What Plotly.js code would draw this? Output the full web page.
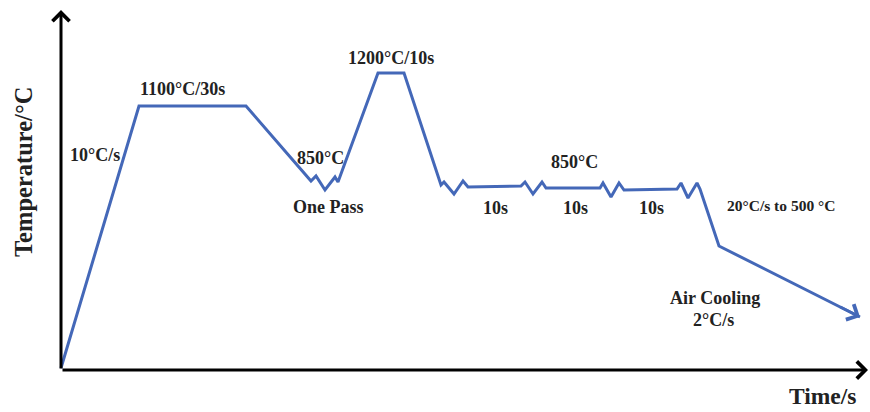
<!DOCTYPE html>
<html>
<head>
<meta charset="utf-8">
<script src="https://cdn.plot.ly/plotly-3.0.1.min.js"></script>
<style>html,body{margin:0;padding:0;background:#fff;}#chart{width:870px;height:412px;}</style>
</head>
<body>
<div id="chart"></div>
<script>
// Schematic thermal cycle (arbitrary schematic units)
const time = [0, 78, 185, 250, 255, 264, 274, 277, 317, 343, 380, 383, 393, 402, 407, 460, 464, 472, 481, 485, 539, 542, 550, 558, 563, 616, 620, 627, 636, 639, 658, 799];
const temp = [2, 264, 264, 189, 194, 180, 193, 188, 297, 297, 185, 188, 176, 189, 183, 184, 188, 176, 188, 182, 182, 187, 173, 187, 180, 181, 187, 172, 187, 181, 124, 53];

const labels = ["10°C/s", "1100°C/30s", "850°C", "One Pass", "1200°C/10s", "850°C", "10s", "10s", "10s", "20°C/s to 500 °C", "Air Cooling", "2°C/s"];
const labelX = [34, 121, 259, 267, 330, 513, 434, 514, 590, 720, 654, 652];
const labelY = [215, 281, 212, 163, 312, 208, 162, 162, 162, 165, 72, 50];
const labelSize = [18, 18, 18, 18, 18, 18, 18, 18, 18, 15.5, 18, 18];

const axisX = [0, 807];
const axisY = [0, 360];

const serif = "Liberation Serif, Times New Roman, serif";
const ink = "#222222";
const blue = "#4468b8";

const n = time.length;
const dx = time[n-1] - time[n-2], dy = temp[n-1] - temp[n-2];

const annotations = [];
// axes with arrowheads
annotations.push({x: axisX[1], y: 0, ax: axisX[0], ay: 0, xref: 'x', yref: 'y', axref: 'x', ayref: 'y',
  text: '', showarrow: true, arrowhead: 4, arrowsize: 1.1, arrowwidth: 3, arrowcolor: '#000', standoff: 0, startstandoff: 0});
annotations.push({x: 0, y: axisY[1], ax: 0, ay: axisY[0], xref: 'x', yref: 'y', axref: 'x', ayref: 'y',
  text: '', showarrow: true, arrowhead: 4, arrowsize: 1.1, arrowwidth: 3, arrowcolor: '#000', standoff: 0, startstandoff: 0});
// arrowhead at end of curve
annotations.push({x: time[n-1], y: temp[n-1], ax: time[n-1] - dx*0.15, ay: temp[n-1] - dy*0.15,
  xref: 'x', yref: 'y', axref: 'x', ayref: 'y', text: '', showarrow: true, arrowhead: 4, arrowsize: 1.2,
  arrowwidth: 2.8, arrowcolor: blue, standoff: 0});

for (let i = 0; i < labels.length; i++) {
  annotations.push({x: labelX[i], y: labelY[i], xref: 'x', yref: 'y', text: labels[i], showarrow: false,
    font: {family: serif, size: labelSize[i], color: ink, weight: 'bold'}});
}
// axis titles
annotations.push({x: -38, y: 198, xref: 'x', yref: 'y', text: 'Temperature/°C', textangle: -90, showarrow: false,
  font: {family: serif, size: 24.5, color: ink, weight: 'bold'}});
annotations.push({x: 761, y: -26, xref: 'x', yref: 'y', text: 'Time/s', showarrow: false,
  font: {family: serif, size: 23.5, color: ink, weight: 'bold'}});

const trace = {x: time, y: temp, mode: 'lines', type: 'scatter', line: {color: blue, width: 3}, hoverinfo: 'skip'};

const layout = {
  width: 870, height: 412,
  margin: {l: 0, r: 0, t: 0, b: 0},
  paper_bgcolor: '#fff', plot_bgcolor: '#fff',
  showlegend: false,
  xaxis: {range: [-61, 809], visible: false, fixedrange: true},
  yaxis: {range: [-42, 370], visible: false, fixedrange: true},
  annotations: annotations
};

Plotly.newPlot('chart', [trace], layout, {displayModeBar: false, staticPlot: true});
</script>
</body>
</html>
